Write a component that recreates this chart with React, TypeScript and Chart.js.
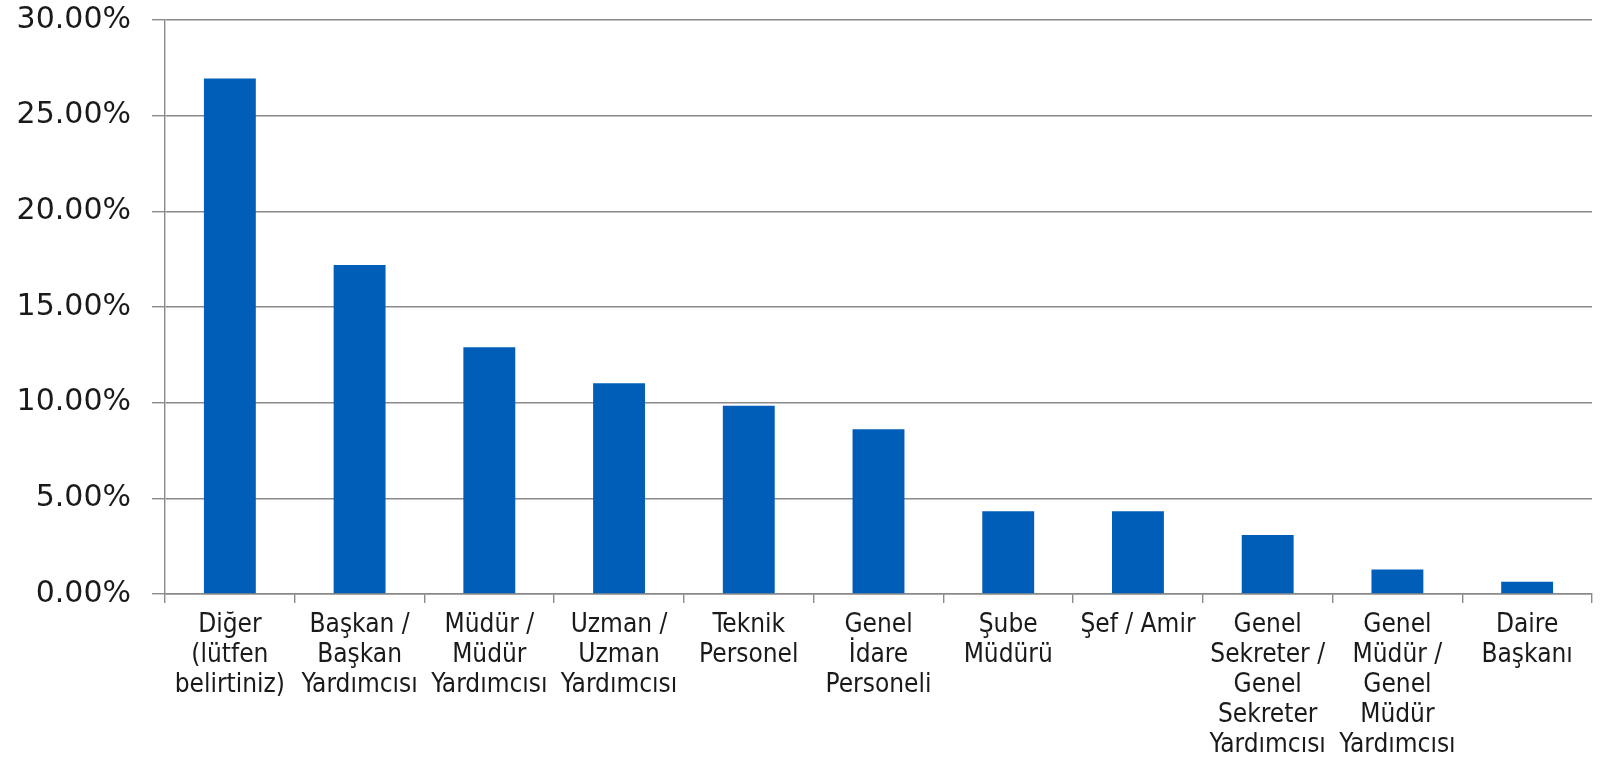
import React, { useEffect, useRef } from "react";
import { Chart, registerables } from "chart.js";

Chart.register(...registerables);

const categories: string[][] = [
  ["Diğer", "(lütfen", "belirtiniz)"],
  ["Başkan /", "Başkan", "Yardımcısı"],
  ["Müdür /", "Müdür", "Yardımcısı"],
  ["Uzman /", "Uzman", "Yardımcısı"],
  ["Teknik", "Personel"],
  ["Genel", "İdare", "Personeli"],
  ["Şube", "Müdürü"],
  ["Şef / Amir"],
  ["Genel", "Sekreter /", "Genel", "Sekreter", "Yardımcısı"],
  ["Genel", "Müdür /", "Genel", "Müdür", "Yardımcısı"],
  ["Daire", "Başkanı"],
];

const shares: number[] = [26.94, 17.19, 12.89, 11.02, 9.84, 8.61, 4.33, 4.33, 3.08, 1.28, 0.64];

const yMin = 0;
const yMax = 30;
const yStep = 5;

const BAR_COLOR = "#005EB8";
const GRID_COLOR = "#8a8a8a";
const FONT_X = "'DejaVu Sans Condensed', 'DejaVu Sans', sans-serif";
const FONT_Y = "'DejaVu Sans', sans-serif";

export default function App() {
  const ref = useRef<HTMLCanvasElement | null>(null);

  useEffect(() => {
    document.body.style.margin = "0";
    const canvas = ref.current;
    if (!canvas) return;
    const chart = new Chart(canvas, {
      type: "bar",
      data: {
        labels: categories,
        datasets: [
          {
            data: shares,
            backgroundColor: BAR_COLOR,
            borderWidth: 0,
            categoryPercentage: 1,
            barPercentage: 0.4,
          },
        ],
      },
      options: {
        animation: false,
        responsive: false,
        maintainAspectRatio: false,
        layout: { padding: { top: 20, right: 11, left: 0, bottom: 0 } },
        plugins: {
          legend: { display: false },
          tooltip: { enabled: false },
        },
        scales: {
          x: {
            grid: {
              display: true,
              drawOnChartArea: false,
              drawTicks: true,
              tickLength: 9,
              color: GRID_COLOR,
              lineWidth: 1.4,
              offset: true,
            },
            border: { display: true, color: GRID_COLOR, width: 1.4 },
            ticks: {
              autoSkip: false,
              maxRotation: 0,
              minRotation: 0,
              padding: 7,
              color: "#1a1a1a",
              font: { family: FONT_X, size: 26, lineHeight: 30 / 26 },
            },
            afterFit: (scale: any) => {
              scale.height = 762 - 594;
              scale.paddingLeft = 0;
              scale.paddingRight = 0;
            },
          },
          y: {
            min: yMin,
            max: yMax,
            ticks: {
              stepSize: yStep,
              padding: 21,
              color: "#1a1a1a",
              font: { family: FONT_Y, size: 30 },
              callback: (v: any) => Number(v).toFixed(2) + "%",
            },
            grid: {
              color: GRID_COLOR,
              lineWidth: 1.4,
              tickLength: 13,
            },
            border: { display: true, color: GRID_COLOR, width: 1.4 },
            afterFit: (scale: any) => {
              scale.width = 165;
              scale.paddingTop = 0;
              scale.paddingBottom = 0;
            },
          },
        },
      },
    });
    return () => chart.destroy();
  }, []);

  return (
    <div style={{ width: 1603, height: 762, background: "#fff" }}>
      <canvas ref={ref} width={1603} height={762} style={{ display: "block" }} />
    </div>
  );
}
